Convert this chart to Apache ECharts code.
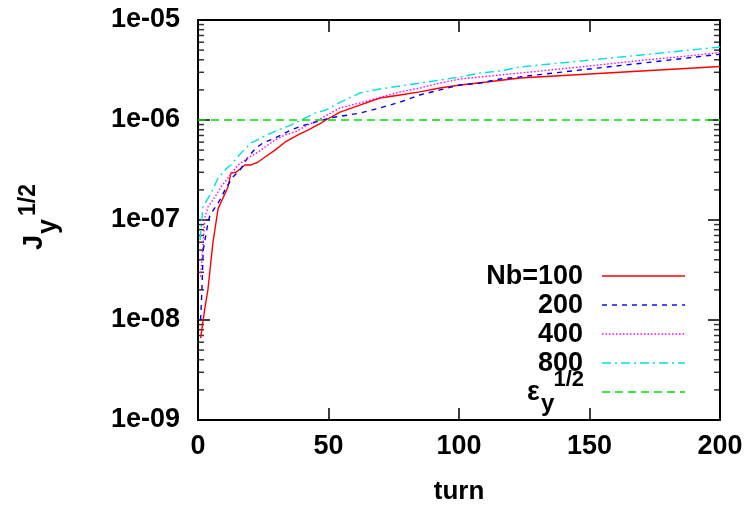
<!DOCTYPE html>
<html>
<head>
<meta charset="utf-8">
<script src="https://cdn.jsdelivr.net/npm/echarts@6/dist/echarts.min.js"></script>
<style>html,body{margin:0;padding:0;background:#fff;}#c{width:755px;height:507px;}</style>
</head>
<body>
<div id="c"></div>
<script>
// ---- data ----
const xTickValues = [0, 50, 100, 150, 200];
const yTickValues = [1e-9, 1e-8, 1e-7, 1e-6, 1e-5];
const yTickLabels = ['1e-09', '1e-08', '1e-07', '1e-06', '1e-05'];
const yMinorTicks = [2e-9,3e-9,4e-9,5e-9,6e-9,7e-9,8e-9,9e-9,
  2e-8,3e-8,4e-8,5e-8,6e-8,7e-8,8e-8,9e-8,
  2e-7,3e-7,4e-7,5e-7,6e-7,7e-7,8e-7,9e-7,
  2e-6,3e-6,4e-6,5e-6,6e-6,7e-6,8e-6,9e-6];

const seriesNames = ['Nb=100', '200', '400', '800'];
const epsName = 'ε_y^1/2';

const xNb100 = [1, 2.7, 3.8, 5.7, 7.7, 11.5, 12.6, 14.6, 18, 20.3, 23, 25.7, 29.5, 33.3, 38.3, 42.1, 47.1, 49, 54.4, 62, 69.7, 77.4, 85, 92.7, 100.4, 110.7, 123.4, 150, 170, 185, 200];
const yNb100 = [6.6e-9, 1.35e-8, 2.0e-8, 5.9e-8, 1.3e-7, 2.14e-7, 2.95e-7, 3.0e-7, 3.55e-7, 3.55e-7, 3.8e-7, 4.27e-7, 5.0e-7, 6.0e-7, 7.1e-7, 7.9e-7, 9.3e-7, 1.0e-6, 1.2e-6, 1.41e-6, 1.66e-6, 1.78e-6, 1.91e-6, 2.09e-6, 2.24e-6, 2.4e-6, 2.63e-6, 2.88e-6, 3.09e-6, 3.26e-6, 3.43e-6];

const xNb200 = [1, 1.5, 2, 3.8, 4.6, 8.4, 10.7, 13.4, 16.1, 19.2, 22.2, 24.9, 28.7, 31.8, 35.6, 39.5, 44.8, 50.6, 62, 69.7, 77.4, 85, 92.7, 100.4, 108, 115.7, 123.4, 150, 170, 185, 200];
const yNb200 = [1.0e-8, 2.0e-8, 5.0e-8, 9.3e-8, 1.12e-7, 1.58e-7, 2.09e-7, 2.69e-7, 3.16e-7, 4.27e-7, 5.25e-7, 5.9e-7, 6.46e-7, 7.08e-7, 7.94e-7, 8.7e-7, 9.5e-7, 1.05e-6, 1.17e-6, 1.32e-6, 1.51e-6, 1.78e-6, 2.0e-6, 2.24e-6, 2.34e-6, 2.57e-6, 2.7e-6, 3.24e-6, 3.7e-6, 4.1e-6, 4.55e-6];

const xNb400 = [1, 2.7, 3.8, 6.5, 8.8, 15.3, 19.2, 23, 29.5, 33.3, 37.2, 42.1, 46, 54.4, 62, 77.4, 85, 92.7, 100.4, 108, 115.7, 123.4, 150, 170, 185, 200];
const yNb400 = [2.7e-8, 1.07e-7, 1.35e-7, 1.7e-7, 2.14e-7, 3.55e-7, 4.17e-7, 4.79e-7, 6.3e-7, 7.08e-7, 7.6e-7, 8.9e-7, 1.0e-6, 1.32e-6, 1.48e-6, 1.91e-6, 2.09e-6, 2.34e-6, 2.57e-6, 2.69e-6, 2.82e-6, 2.95e-6, 3.47e-6, 3.95e-6, 4.3e-6, 4.73e-6];

const xNb800 = [0.8, 1.9, 5, 7.7, 11.5, 12.6, 16.5, 20.3, 24.1, 28, 30.7, 35.6, 39.5, 44.8, 49, 54.4, 62, 69.7, 77.4, 85, 92.7, 100.4, 108, 115.7, 123.4, 150, 170, 185, 200];
const yNb800 = [6.3e-8, 1.35e-7, 1.86e-7, 2.63e-7, 3.39e-7, 3.55e-7, 4.68e-7, 5.9e-7, 6.6e-7, 7.4e-7, 7.94e-7, 8.9e-7, 1.0e-6, 1.17e-6, 1.26e-6, 1.5e-6, 1.86e-6, 2.04e-6, 2.19e-6, 2.34e-6, 2.51e-6, 2.69e-6, 2.95e-6, 3.09e-6, 3.39e-6, 3.97e-6, 4.47e-6, 4.9e-6, 5.37e-6];

const xEps = [0, 200];
const yEps = [1e-6, 1e-6];

// ---- styles ----
const colors = ['#ff0000', '#0000ee', '#ff00ff', '#00e0e0', '#00e000'];
const dashes = ['solid', [5, 5], [1.5, 2], [9, 4, 2, 4], [8, 5]];
const FONT = 'Liberation Sans, Arial, sans-serif';

function pairs(xs, ys) { return xs.map((x, i) => [x, ys[i]]); }
const allX = [xNb100, xNb200, xNb400, xNb800, xEps];
const allY = [yNb100, yNb200, yNb400, yNb800, yEps];

const chart = echarts.init(document.getElementById('c'));

const lineSeries = allX.map((xs, i) => ({
  type: 'line',
  name: i < 4 ? seriesNames[i] : epsName,
  data: pairs(xs, allY[i]),
  showSymbol: false,
  symbol: 'none',
  smooth: false,
  lineStyle: {color: colors[i], width: 1.4, type: dashes[i]},
  z: 3,
  silent: true,
  animation: false
}));

// minor log ticks on an overlaid plain grid with identical extent (inward on both borders)
const minorLeft = {
  type: 'scatter', xAxisIndex: 2, yAxisIndex: 2,
  data: yMinorTicks.map(v => [0, v]), symbol: 'rect', symbolSize: [6, 1.5],
  symbolOffset: [3, 0], clip: false, itemStyle: {color: '#000'}
};
const minorRight = {
  type: 'scatter', xAxisIndex: 2, yAxisIndex: 2,
  data: yMinorTicks.map(v => [200, v]), symbol: 'rect', symbolSize: [6, 1.5],
  symbolOffset: [-3, 0], clip: false, itemStyle: {color: '#000'}
};

const legendRows = [277, 306, 335, 364, 393];
const gfx = [];
for (let i = 0; i < 5; i++) {
  gfx.push({
    type: 'line',
    shape: {x1: 602, y1: legendRows[i] - 1, x2: 685, y2: legendRows[i] - 1},
    style: {stroke: colors[i], lineWidth: 1.4, lineDash: dashes[i] === 'solid' ? null : dashes[i]},
    silent: true
  });
  if (i < 4) {
    gfx.push({
      type: 'text', x: 583, y: legendRows[i], silent: true,
      style: {text: seriesNames[i], fill: '#000', font: 'bold 27px ' + FONT, textAlign: 'right', textVerticalAlign: 'middle'}
    });
  }
}
gfx.push(
  {type: 'text', x: 527, y: 406, silent: true, style: {text: 'ε', fill: '#000', font: 'bold 27px ' + FONT, textAlign: 'left', textVerticalAlign: 'bottom'}},
  {type: 'text', x: 541, y: 416, silent: true, style: {text: 'y', fill: '#000', font: 'bold 24px ' + FONT, textAlign: 'left', textVerticalAlign: 'bottom'}},
  {type: 'text', x: 584, y: 391, silent: true, style: {text: '1/2', fill: '#000', font: 'bold 22px ' + FONT, textAlign: 'right', textVerticalAlign: 'bottom'}},
  {
    type: 'group', x: 48, y: 250, rotation: Math.PI / 2, silent: true,
    children: [
      {type: 'text', x: 0, y: 0, style: {text: 'J', fill: '#000', font: 'bold 27px ' + FONT, textAlign: 'left', textVerticalAlign: 'bottom'}},
      {type: 'text', x: 16, y: 14, style: {text: 'y', fill: '#000', font: 'bold 27px ' + FONT, textAlign: 'left', textVerticalAlign: 'bottom'}},
      {type: 'text', x: 34, y: -8, style: {text: '1/2', fill: '#000', font: 'bold 23px ' + FONT, textAlign: 'left', textVerticalAlign: 'bottom'}}
    ]
  },
  {type: 'text', x: 459, y: 492, silent: true, style: {text: 'turn', fill: '#000', font: 'bold 26px ' + FONT, textAlign: 'center', textVerticalAlign: 'middle'}}
);

const option = {
  backgroundColor: '#fff',
  animation: false,
  grid: [
    {left: 198, top: 20, right: 35, bottom: 87},
    {left: 198, top: 20, right: 35, bottom: 87}
  ],
  xAxis: [
    {
      type: 'value', gridIndex: 0, position: 'bottom', min: 0, max: 200, interval: 50,
      axisLine: {show: true, onZero: false, lineStyle: {color: '#000', width: 2}},
      axisTick: {show: true, inside: true, length: 12, lineStyle: {color: '#000', width: 1.5}},
      axisLabel: {show: true, margin: 13, color: '#000', fontSize: 27, fontWeight: 'bold', fontFamily: FONT},
      splitLine: {show: false}
    },
    {
      type: 'value', gridIndex: 0, position: 'top', min: 0, max: 200, interval: 50,
      axisLine: {show: true, onZero: false, lineStyle: {color: '#000', width: 2}},
      axisTick: {show: true, inside: true, length: 12, lineStyle: {color: '#000', width: 1.5}},
      axisLabel: {show: false},
      splitLine: {show: false}
    },
    {type: 'value', gridIndex: 1, min: 0, max: 200, show: false}
  ],
  yAxis: [
    {
      type: 'log', gridIndex: 0, min: 1e-9, max: 1e-5, position: 'left',
      axisLine: {show: true, onZero: false, lineStyle: {color: '#000', width: 2}},
      axisTick: {show: true, inside: true, length: 12, lineStyle: {color: '#000', width: 1.5}},
      axisLabel: {show: true, margin: 18, color: '#000', fontSize: 27, fontWeight: 'bold', fontFamily: FONT,
        formatter: function (v) {
          const e = Math.round(Math.log10(v));
          const idx = yTickValues.findIndex(t => Math.round(Math.log10(t)) === e);
          return idx >= 0 ? yTickLabels[idx] : '';
        }},
      splitLine: {show: false}
    },
    {
      type: 'log', gridIndex: 0, min: 1e-9, max: 1e-5, position: 'right',
      axisLine: {show: true, onZero: false, lineStyle: {color: '#000', width: 2}},
      axisTick: {show: true, inside: true, length: 12, lineStyle: {color: '#000', width: 1.5}},
      axisLabel: {show: false},
      splitLine: {show: false}
    },
    {type: 'log', gridIndex: 1, min: 1e-9, max: 1e-5, show: false}
  ],
  series: lineSeries.concat([minorLeft, minorRight]),
  graphic: gfx
};

chart.setOption(option);
</script>
</body>
</html>
